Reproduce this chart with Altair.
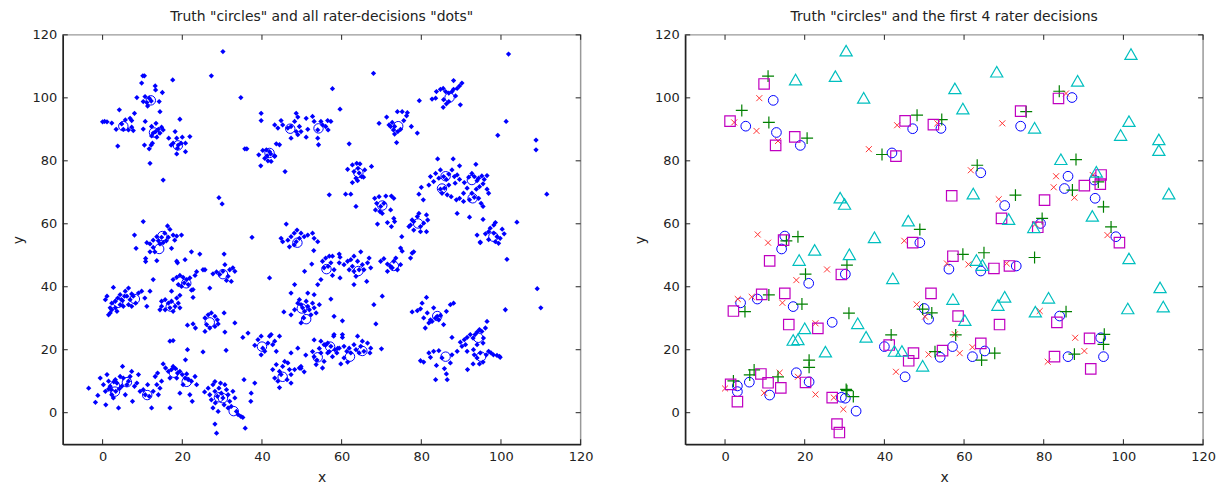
import altair as alt
import pandas as pd

# ---------------- data ----------------
# Truth "circles"
truth = [(5.2,91),(12.1,99.2),(12.9,89),(18.9,84.9),(41.9,82.5),(47.1,90.2),(54.2,90.3),(74.2,91),
         (87.1,100.1),(64.2,76.2),(70.2,65.8),(86.1,75.1),(85.2,71.2),(92.7,73.9),(92.9,68.1),(48.9,54),
         (79.2,60.1),(98.1,55.9),(56.2,45.6),(64.2,45),(73.1,46.6),(50,33.1),(51.1,29.7),(84,30.7),
         (94.3,23.8),(86.1,17.8),(95,17.8),(65.2,19.6),(62.1,17.8),(57.1,21),(54,17.6),(45.2,11.4),
         (14.2,52),(15,56.1),(21,41.1),(3.9,34.9),(8.1,36.1),(17.1,33.7),(26.9,28.7),(30.2,44),(40,21),
         (3.1,8.5),(3.1,6.7),(6.1,9.7),(11.2,5.6),(17.9,12.7),(21.1,9.8),(29.2,4.9),(30.2,4.6),(32.9,0.5)]

# Rater 1 (red x)
rater1 = [(2.3,92.2),(7.9,89.5),(8.6,99.9),(13.3,86.3),(36.1,83.7),(43.2,91.3),(53.3,91.9),(69.6,91.9),
          (85.6,101.4),(61.7,77),(68.7,67.8),(83.1,75.1),(82.5,71.6),(87.7,68.3),(92.3,75.5),(45,54.6),
          (77.9,59.9),(96,56.4),(55.7,47.4),(61.1,47.1),(70.7,47.4),(79,32.3),(48.1,34.4),(50.2,30.5),
          (57.7,24.9),(87.9,23.8),(90.2,19.6),(81,16.2),(62.1,20.8),(58.9,18.9),(51.1,18.5),(8.2,56.6),
          (10.8,54),(25.6,45.5),(17.9,42.1),(3.2,36.1),(6.7,36.8),(14.4,34.9),(22.7,28.4),(42.9,13),
          (0,7.7),(9.8,6.3),(13.7,12.7),(18.3,11.4),(22.7,5.8),(27.3,4.8),(29.7,1.1)]

# Rater 2 (green +)
rater2 = [(4.2,96),(10.8,106.9),(11,92.2),(20.6,87.2),(39.4,82),(48.2,94.5),(54.4,93.1),(75.6,95.6),
          (83.9,102.1),(88.1,80.4),(63.3,78.6),(72.9,69.1),(87.2,70.7),(93.7,73.3),(95,65.4),(79.6,61.7),
          (48.9,58.2),(96.9,59),(59.7,50.3),(65,50.8),(77.7,49.3),(49.6,32.9),(51.9,31.7),(85.6,32.1),
          (57.9,24.7),(95.2,24.9),(95,21.7),(87.7,18.6),(67.7,18.9),(64.4,16.7),(52.7,19.4),(15.4,54.6),
          (18.3,55.9),(30.6,46.9),(20.2,44),(5,32.1),(11,37.4),(19.3,34.5),(31.1,31.6),(41.7,24.7),
          (21.1,16.7),(21.1,14.4),(2.1,10.1),(6.2,12),(7.3,13.6),(13.3,11.4),(30.4,7.4),(30.6,7),(32.2,5.1)]

# Rater 3 (magenta squares)
rater3 = [(1.25,92.6),(9.8,104.4),(12.7,84.9),(17.5,87.6),(42.9,81.5),(45.2,92.7),(52.3,91.5),(74.2,95.8),
          (83.7,99.8),(56.9,68.9),(80.2,67.5),(90.2,72.1),(94.4,75.5),(94.2,72.6),(69.4,61.7),(47.1,54),
          (78.5,58.9),(99,54),(57.2,49.7),(67.5,45.8),(71.4,46.6),(51.7,37.9),(58.5,30.7),(68.9,28),
          (83.3,28.7),(91.5,23.6),(91.8,13.9),(82.7,17.8),(64.2,22),(54.6,19.7),(47.3,18.9),(46.1,16.5),
          (41.2,21.5),(14.7,54.8),(11.2,48.2),(29.2,43.9),(2.1,32.3),(9.2,37.6),(15,37.9),(16,28),
          (23.3,26.8),(1.4,9),(3.1,3.5),(9,12.3),(10.8,9.5),(14,7.9),(20.2,9.6),(26.9,4.8),(28.1,-3.6),(28.7,-6.3)]

# Rater 4 (cyan triangles)
rater4 = [(17.7,105.8),(27.7,106.9),(30.4,115),(34.8,100),(28.9,68.3),(30,66.3),(46,61),(57.7,103),
          (59.7,96.6),(68.2,108.3),(77.7,90.5),(88.5,105.4),(101.9,113.9),(101.4,92.6),(99.3,88.2),
          (108.9,86.8),(108.9,83.4),(84.3,80.5),(62.3,69.6),(93.2,76.5),(111.4,69.6),(71.2,61.5),(92.2,62.5),
          (77.5,58.9),(101.4,49),(109.2,39.8),(110,33.7),(101.1,33.1),(63.1,48.5),(64.6,46.9),(57.2,36.1),
          (70.2,36.8),(68.5,34.2),(81.2,36.5),(77.9,32.1),(60.2,29.4),(49.6,14.9),(18.6,48.5),(22.5,51.7),
          (31.2,50.3),(37.5,55.7),(42.1,42.7),(20,26.8),(17.1,23.1),(18.3,23.3),(33.3,28.4),(35.4,24.1),
          (25.2,19.4),(42.5,19.6),(44.4,19.6)]

# All rater decisions ("dots"), grouped by cluster
dots_a = [(10.1,107),(10.5,107),(9.8,104.7),(13.2,103.8),(13.3,102.5),(15,101.7),(17.6,105.7),(8.6,100.1),
          (10.65,100.4),(11.7,99.9),(12.2,99),(11.1,98.5),(11.3,97.4),(10.2,98.8),(14.2,98.8),(14.4,95.6),
          (4.2,96.2),(0.5,92.5),(1.1,92.4),(0,92.4),(2.3,92),(3.4,90),(5.2,90),(6.5,89.8),(7.7,89.6),
          (7.3,90.7),(4.8,91.7),(5.7,93),(6.9,93.5),(7.3,92.8),(8,95.1),(10.7,92.5),(10.2,90.1),(12.3,90.9),
          (13.4,91.9),(14,90),(14.8,90.7),(13.3,89.3),(12.7,88.8),(12.3,87.9),(13.6,87.5),(14.4,88.8),
          (15.2,89.8),(19.4,93.2),(3.8,84.7),(10.5,85),(12.2,85),(11.7,83.8),(12.5,85.6),(16.6,87.2),
          (18.2,89.3),(18.6,87.2),(20,87.5),(20.8,85.6),(19.7,85.6),(17.7,85.6),(18.8,84),(18.6,82.2),
          (20.8,82.9),(21.9,87.7),(17.2,85),(19,85),(11.9,79.2),(15.2,73.9)]
dots_out = [(27.3,107),(30.2,114.7),(34.7,100.1),(29.2,68.3),(30,66.3),(35.7,83.8),(36.2,83.8),(39.8,95.1),
            (39.8,92.8),(45.8,76.6),(57.7,102.9),(68,107.8),(59.6,96.4),(61.9,85.4),(79.5,99.1),(101.9,113.9),
            (101.3,92.5),(99.2,88.1),(108.8,86.6),(108.8,83.5),(56.9,69.2),(61,69.4),(62.3,69.4),(63.6,65.5),
            (75.1,55.9),(104,60.5),(111.5,69.4),(101.5,48.7),(109.1,39.4),(110,33.3),(101.1,32.7),(37.5,55.7),
            (12.7,42.3),(41.9,42.8),(31,19.8),(25.2,19.3),(16.9,22.7),(17.7,22.9),(21.3,20),(70.2,37),
            (68.6,28.2),(68.1,34.3),(70,20.3),(57.3,36.1),(58.1,30.6),(60.2,29.2)]
dots_b = [(39.2,81.9),(40.2,83.3),(41.1,83.5),(41.9,82.9),(41.3,81.6),(42.2,82.2),(43.2,81.6),(41.5,80),
          (42.3,79.8),(40.7,80.8),(43.2,81.4),(39.7,78.4),(43.6,85.4),(44.4,85.1),(43.2,91.4),(44.8,92.8),
          (45.2,91.4),(46.5,90.4),(47.3,90.9),(48.6,95.1),(49,93.9),(48.2,92.5),(49.4,90.9),(49.8,89.3),
          (51.1,93.5),(51.5,90),(52.7,94.1),(53.1,92.5),(54,89.8),(54,87.2),(54.2,85.1),(47.3,87.2),
          (49,88.3),(51.1,87.5),(44,90.4),(48.6,89.3),(54.8,92.5),(56.5,92.8),(57.3,92.5),(56.6,89.8),
          (56,90.9),(55.2,91.4)]
dots_c = [(61.5,77.3),(62.7,78.7),(63.8,79.2),(64.6,79),(64.1,77.6),(63.1,76.6),(64.4,76.1),(65,75),
          (63.6,74.5),(62.7,73.1),(65.8,77.1),(67.5,78.2),(65.5,74.8),(64,73.7)]
dots_d = [(68.3,68.1),(69.4,68.6),(71.1,68.8),(72.5,68.8),(73.1,68.1),(68.8,66.5),(69.8,65.5),(70.6,66.5),
          (68.5,64.4),(69.6,63.9),(70.2,63.3),(72.3,64.4),(73.1,61.7),(73.3,60.7),(71.5,60.4),(69,59.9),(72.5,59.1)]
dots_e = [(69.4,91.9),(71.3,93.9),(71.9,91.4),(72.7,92.2),(73.3,90.9),(74,95.6),(75.2,95.6),(76.5,95.3),
          (76.3,94.3),(75.6,92.8),(77.5,90.9),(79,88.8),(74.1,89.3),(73.3,88.5),(73.8,85.8),(74.8,90),
          (72.3,90.9),(73,89.8)]
dots_f = [(82.7,99.6),(83.6,99.9),(83.8,102),(84.8,102.7),(85.5,103),(86.1,102),(86.9,101.5),(87.7,102),
          (88.1,102.7),(89,103),(89.6,103.8),(90.2,104.7),(88.1,105.5),(85.6,99.4),(86.3,98.1),(85.5,97),
          (86.9,98.8),(89.8,97.8),(88.6,100.6)]
dots_g = [(84.1,80.6),(88,80.6),(89.6,78.4),(93.7,78.9),(84.8,77.1),(83.6,76),(82.3,75),(83.1,73.4),
          (81.9,72.3),(80,71.6),(79.4,69.4),(80.5,67.6),(84.4,74.5),(85.6,75),(86.3,74.1),(86.9,75.8),
          (87.7,77.1),(88.3,75),(89,75.5),(89.6,74.1),(88.5,72.9),(86.9,72.3),(85.8,71.3),(84.8,71),
          (85.2,69.7),(86.5,69.2),(87.5,68.6),(88.8,67.6),(89.6,68.1),(90.6,69.7),(91.5,71.3),(90.8,73.1),
          (91.9,74.8),(92.7,76),(93.3,75),(94,73.7),(94.4,74.5),(95.2,75.2),(95.8,74.1),(96.5,75.3),
          (95.5,72.7),(94.6,71.8),(93.8,71),(92.7,69.7),(93.3,68.4),(94.4,68.1),(95,66.5),(95.5,65.5),
          (96.5,71),(96.9,69.7),(92.1,67.6),(90.6,67.1),(89,63.3),(92.1,62.1),(95.5,61.4),(98.6,60.4)]
dots_g2 = [(77.3,59.6),(78.1,60.7),(79,62.3),(79.4,63.3),(79.8,59.1),(80.6,60.2),(81.3,62.8),(81.6,61.2),
           (78.1,58),(79.8,57.5),(81.3,57.5),(77.7,61.2),(76.9,59.1)]
dots_h = [(94,56.4),(94.8,54),(96.1,56.8),(96.9,57.5),(98.2,57),(99,55.9),(98.6,54.3),(99.4,53.8),
          (100.3,58.3),(99.8,55.4),(97.3,58.6),(98.2,59.6),(100.8,56.8),(94.8,54.2),(96.9,55)]
dots_i = [(8,56.4),(10.2,60.7),(8.4,52.2),(10.8,49),(10.8,48),(11.1,54),(11.9,53.6),(12.7,54.8),(13.6,55.9),
          (14,54.6),(14.8,55.7),(15.6,57),(16.3,59.3),(16.9,58.2),(17.7,56.4),(18.6,56.1),(19.8,56.4),
          (17.3,52.2),(13.6,48.3),(14.4,53.6),(15.2,54),(16,54.6),(12.7,52.5),(11.9,51.1),(18.1,54.8),
          (16.5,55.7),(13.1,51.1)]
dots_t = [(44.8,55.4),(45.2,54.3),(46.5,54.8),(47.3,55.9),(48.1,57),(48.6,54.3),(49.4,55.4),(50.6,55.9),
          (51.5,56.4),(52.7,57),(53.1,55.4),(54,54.3),(46.1,59.9),(48.8,58),(49.8,57),(46.9,52.7),(48.1,53.3),
          (53,51.5)]
dots_j = [(17.7,42.3),(18.6,43),(19.4,43.6),(20.2,43),(21.1,42.3),(20.5,41.2),(21.5,40.7),(19.8,40.1),
          (19,40.7),(21.9,42.8),(22.7,39.1),(23.2,43.6),(25.2,45.4),(22.3,51.1),(24.4,50.4),(18.6,48.1),
          (18.8,47.6),(20.7,48.6),(22.3,38.9),(22.7,36.6),(23.6,44.8)]
dots_k = [(14.8,35.4),(15.7,35.9),(16.5,34.8),(17.3,35.4),(18.6,36.4),(19.4,37.3),(19,34.8),(18.2,33.8),
          (16.9,33.3),(15.7,32.7),(14.8,33.8),(14.4,32.7),(17.7,32.2),(19.4,33.3),(17.3,38.6)]
dots_l = [(0.7,35.9),(1.1,37),(1.5,31.1),(1.9,33.3),(2.3,34.8),(2.7,39.8),(3.2,35.4),(3.8,36.4),(4.4,37.5),
          (5,35.6),(5.7,38.6),(6.1,37),(6.5,39.6),(6.9,35.9),(7.3,37.7),(7.7,37),(8.3,34.8),(9,38),(9.8,38.6),
          (10.6,36.4),(11.1,33.8),(11.9,38.6),(1.9,31.7),(3.2,33.3),(4.4,34.3),(5.2,33.8),(3.6,32.2),
          (2.3,32.7),(6.5,34.3),(7.3,33.8),(5.5,37),(4.7,35.9)]
dots_m = [(-3.5,7.8),(-1.8,3.3),(-1.2,5.5),(-0.6,11),(0.2,8.9),(0.7,6.8),(0.8,2.5),(1.1,12.1),(1.5,10),
          (1.9,8.4),(2.2,7.3),(2.3,5.7),(2.7,4.7),(3.2,10.5),(3.3,6.8),(3.6,9.4),(4,1.5),(4.4,11.5),(4.8,8.4),
          (5,14.7),(5.2,11),(5.7,5.7),(6.1,8.9),(6.5,10),(6.9,11.5),(7.3,13.1),(7.5,3.6),(8,8.4),(8.6,9.4),
          (9,12.1),(9.4,6.8),(10.2,7.3),(10.7,5.7),(11.3,8.9),(11.7,5.2),(12.3,1.5),(12.7,6.8),(13.2,11.5),
          (13.6,8.9),(14,5.7),(14.4,7.8),(14.8,10),(13.8,12.6),(16.9,1.5),(1.5,7.5),(2.8,9.8),(4.2,7.6)]
dots_n = [(15.2,15.5),(15.8,14.2),(16.5,13.1),(17.3,13.7),(17.7,14.7),(18.3,14),(18.8,12.6),(19.4,13.1),
          (20,12.1),(20.7,11),(21.1,12.3),(21.5,10.5),(22.3,10),(23.2,11.5),(23.6,8.9),(19.4,6.2),(20.8,16.8),
          (21.9,5.7),(22.5,3.6),(18.6,11),(20.2,8.9),(16.9,11)]
dots_o = [(25.6,6.6),(26.5,7.8),(26.9,5.7),(27.3,4.1),(27.7,8.9),(28.2,6.8),(28.3,3.1),(28.8,5.2),(29.2,7.8),
          (29.6,9.4),(29.8,6.2),(30.2,4.7),(30.5,2.5),(31.1,7.3),(31.5,5.7),(31.9,3.6),(32.3,2),(32.7,6.8),
          (33.2,4.7),(33.6,0.4),(34,-0.6),(34.7,-1.2),(35.2,-1.5),(28.2,9.9),(30.7,8.9),(35.5,10.5),(38.2,9.4),
          (37.3,6.2),(37.2,3.6),(35.8,-4.9),(28.2,-3.6),(28.6,-6.5),(27.7,1.5),(29,0.4),(31.5,1.5)]
dots_p = [(25.7,30.1),(26.5,31.1),(27.3,31.7),(28.2,30.6),(28.8,29.5),(26.1,28),(26.9,26.9),(28.2,27.4),
          (29,28.2),(30.5,31.7),(30.7,25.6),(23.3,26.9),(25.7,25.8),(33.2,28.5),(21.3,27.8),(22.7,28.2)]
dots_q = [(27.7,44.1),(28.6,44.7),(29.4,43.9),(30.2,44.9),(30.7,47),(31.5,43.3),(31.9,45.4),(32.7,46),
          (33.2,44.9),(31.1,42),(32.3,41.7),(26.9,39.6),(25.7,45.4),(30.5,50.4)]
dots_r = [(35.2,23.9),(36.5,25.3),(38.2,21.4),(39,23.2),(39.8,24.3),(40.2,20.5),(40.7,19.5),(41.5,22.1),
          (41.9,24.3),(42.3,24.8),(42.7,21.6),(43.6,19.5),(44.4,24.3),(43.2,22.7),(39.8,18.4),(47.3,19),(49,20.5)]
dots_s = [(42.7,13.7),(43.6,15.3),(44.4,13.1),(45.2,14.7),(45.7,16.3),(46.5,15.8),(46.9,13.7),(47.3,12.1),
          (46.3,10.5),(44.8,12.1),(44,10),(43.2,11),(44.4,8),(47.3,9.4),(48.2,13.7),(49.4,14.2),(49.8,14.7)]
dots_u = [(47.3,38),(48.2,40.7),(49,34.8),(49.4,35.9),(49.8,34.3),(50.2,33.3),(50.7,32.2),(51.1,35.4),
          (51.5,33.8),(51.9,32.7),(52.3,31.1),(52.7,34.8),(53.1,33.3),(53.6,31.7),(50.5,30.1),(49.8,28.5),
          (48.2,32.7),(47.3,31.1),(45.5,32),(51.5,38),(53.1,37.5),(54,40.7),(52.5,47.2),(50.7,44.9),(54.4,34.3)]
dots_v = [(55.2,48.1),(56,49.1),(56.9,49.7),(57.7,49.7),(57.3,47.6),(56.6,46.5),(55.6,46),(58.1,45.4),
          (59.4,50.4),(59.6,49.4),(59.4,47.6),(57.7,43.6),(59.6,42.8),(54.8,42.3),(60.6,47),(61.5,48.1),
          (62.3,48.6),(63.1,49.7),(64,48.1),(64.8,51.1),(65.2,47),(65.6,45.4),(66.5,47.6),(66.9,49.1),
          (67.3,46),(64.4,45.4),(63.1,44.9),(62.7,46.5),(61.9,45.4),(63.6,43.3),(66.3,41.7),(63.1,40.7)]
dots_w = [(69.8,48.1),(70.6,48.9),(71.5,47.2),(72.3,46.5),(73.1,48.1),(74,45.4),(74.8,47),(73.6,49.1),
          (74.8,52.3),(75.2,51.3),(77.3,49.1),(77.7,50.7),(78.1,51.1),(71.5,44.9),(72.7,46)]
dots_x = [(54.8,22.7),(55.6,21.6),(56.5,22.1),(57.3,21.1),(58,24.3),(58.3,20),(58.8,19),(59.4,20.5),
          (60.2,23.9),(60.6,21.1),(61.3,19.5),(61.9,20.5),(62.3,19),(63.1,21.6),(63.6,20),(64,24.3),(64.4,19),
          (64.8,21.1),(65.2,22.7),(65.6,19.5),(66.5,22.1),(67.1,19),(67.3,20.5),(60.6,17.4),(61.5,16.1),
          (59.8,15.5),(56.5,19),(55.6,16.3),(55.2,14.2),(54.8,19),(60.2,24.8),(58.1,24.8),(51,18.3),
          (52.7,19.4),(53.1,17.8),(53.8,16.7),(54.4,20.4),(53.1,23.1),(50.6,13),(49.8,14.1),(53.6,15.3),
          (56,21.5),(56.9,19.4),(57.7,17.8),(59,20.4)]
dots_y = [(77.7,32),(79,32.4),(79.8,33),(80.2,34.8),(81.3,36.6),(80.6,30.1),(81,26.9),(81.9,28.5),(82.3,29.5),
          (83.1,33.3),(83.6,30.1),(84,30.6),(84.4,29.5),(82.7,29),(85.6,28),(86.3,32.2),(87.3,34.3),(88.1,34.8),
          (87.7,23.9),(81.5,31.7),(84.8,30.9)]
dots_z = [(79.8,16.5),(80.6,16.1),(81.9,19),(82.3,17.6),(83.1,19.5),(83.8,15),(84.4,19.7),(85.2,17.4),
          (85.8,14),(86.3,12.3),(86.5,10.5),(83.6,10.5),(87.3,15.8),(87.7,18.4),(89,19.5),(89.8,22.4),
          (90.2,21.1),(90.8,23.2),(91.5,23.9),(92.3,24.8),(93,23.7),(93.5,24.8),(94,25.6),(94.6,26.4),
          (95.2,25.8),(95.6,23.7),(96.1,26.9),(96.5,29),(95.5,22.1),(94,21.6),(93.1,20),(93.3,18.4),(94,17.4),
          (94.6,15.5),(95.5,16.1),(96.3,18.4),(96.9,19.5),(97.5,19),(98.1,18.4),(99,18.2),(99.6,17.9),
          (99.8,17.6),(94.8,19),(91.6,13.7),(93,15.5),(91.5,19.5),(91.1,21.6)]

dot_groups = [dots_a, dots_out, dots_b, dots_c, dots_d, dots_e, dots_f, dots_g, dots_g2, dots_h, dots_i,
              dots_t, dots_j, dots_k, dots_l, dots_m, dots_n, dots_o, dots_p, dots_q, dots_r, dots_s,
              dots_u, dots_v, dots_w, dots_x, dots_y, dots_z]

tick_values = [0, 20, 40, 60, 80, 100, 120]
x_domain = [-10, 120]
y_domain = [-10, 120]

title_left = 'Truth "circles" and all rater-decisions "dots"'
title_right = 'Truth "circles" and the first 4 rater decisions'

# ---------------- chart ----------------
W, H = 520, 411
FONT = "DejaVu Sans"


def df(points):
    return pd.DataFrame(points, columns=["x", "y"])


xs = alt.Scale(domain=x_domain, nice=False, zero=False)
ys = alt.Scale(domain=y_domain, nice=False, zero=False)

x_axis = alt.Axis(values=tick_values, tickSize=0, grid=False, labelFlush=False, labelOverlap=False,
                  labelPadding=6, title="x", titlePadding=7)
y_axis = alt.Axis(values=tick_values, tickSize=0, grid=False, labelFlush=False, labelOverlap=False,
                  labelPadding=6, title="y", titlePadding=7)


def X(field):
    return alt.X(field, scale=xs, axis=x_axis, title="x")


def Y(field):
    return alt.Y(field, scale=ys, axis=y_axis, title="y")


def marks(points, **mk):
    return alt.Chart(df(points)).mark_point(opacity=1, **mk).encode(x=X("x:Q"), y=Y("y:Q"))


def ticks():
    t = pd.DataFrame({"t": tick_values})
    c = "#222222"
    bottom = alt.Chart(t).mark_rule(color=c, strokeWidth=1).encode(
        x=X("t:Q"), y=alt.value(H), y2=alt.value(H - 5))
    top = alt.Chart(t).mark_rule(color=c, strokeWidth=1).encode(
        x=X("t:Q"), y=alt.value(0), y2=alt.value(5))
    left = alt.Chart(t).mark_rule(color=c, strokeWidth=1).encode(
        y=Y("t:Q"), x=alt.value(0), x2=alt.value(5))
    right = alt.Chart(t).mark_rule(color=c, strokeWidth=1).encode(
        y=Y("t:Q"), x=alt.value(W - 5), x2=alt.value(W))
    return [bottom, top, left, right]


all_dots = [p for g in dot_groups for p in g]

BLUE = "#0000ff"
left = alt.layer(
    marks(all_dots, shape="diamond", filled=True, size=28, color=BLUE, strokeWidth=0.5),
    marks(truth, shape="circle", filled=False, size=90, color=BLUE, strokeWidth=1),
    *ticks()
).properties(width=W, height=H, title=alt.TitleParams(title_left, frame="group"))

right = alt.layer(
    marks(truth, shape="circle", filled=False, size=95, color=BLUE, strokeWidth=1),
    marks(rater1, shape="M-1,-1L1,1M-1,1L1,-1", filled=False, size=36, color="#ff3333", strokeWidth=1),
    marks(rater2, shape="M-1,0L1,0M0,-1L0,1", filled=False, size=144, color="#008000", strokeWidth=1.2),
    marks(rater3, shape="square", filled=False, size=110, color="#c000c0", strokeWidth=1.2),
    marks(rater4, shape="triangle-up", filled=False, size=150, color="#00bfbf", strokeWidth=1.2),
    *ticks()
).properties(width=W, height=H, title=alt.TitleParams(title_right, frame="group"))

chart = alt.hconcat(left, right, spacing=38).properties(
    padding={"left": 2, "top": 0, "right": 5, "bottom": 0}
).configure_view(
    stroke="#999999", strokeWidth=1.5
).configure_axis(
    domainColor="#222222", domainWidth=1.5, labelFont=FONT, labelFontSize=13, labelColor="#222222",
    titleFont=FONT, titleFontSize=14, titleFontWeight="normal", titleColor="#222222"
).configure_title(
    font=FONT, fontSize=14, fontWeight="normal", color="#222222", offset=5
)

chart.save("out.html", embed_options={"renderer": "svg", "actions": False})
